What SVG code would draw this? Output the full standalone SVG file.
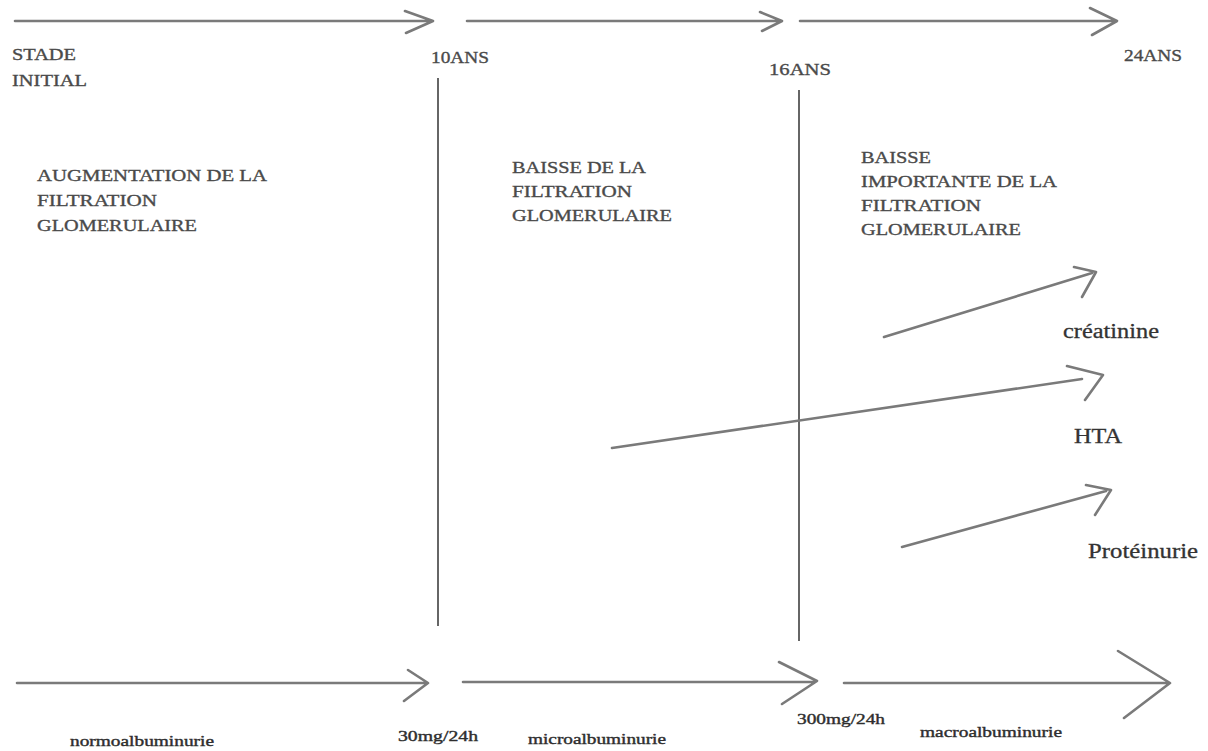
<svg xmlns="http://www.w3.org/2000/svg" width="1208" height="751" viewBox="0 0 1208 751">
<style>
.ln{stroke:#7a7a7a;stroke-width:2.6;fill:none;stroke-linecap:round;stroke-linejoin:round}
.vl{stroke:#333;stroke-width:1.5;fill:none}
.t{font-family:"Liberation Serif","Times New Roman",serif;font-size:17px;fill:#4a4a4a;stroke:#4a4a4a;stroke-width:0.35}
.tb{font-family:"Liberation Serif","Times New Roman",serif;font-size:20px;fill:#333;stroke:#333;stroke-width:0.3}
.ts{font-family:"Liberation Serif","Times New Roman",serif;font-size:15px;fill:#2e2e2e;stroke:#2e2e2e;stroke-width:0.4}
</style>
<rect width="1208" height="751" fill="#fff"/>
<g id="connectors">
<path class="ln" d="M15,21 H432 M405,11 L433,21 L406,33"/>
<path class="ln" d="M467,21 H780 M760,12 L782,21 L762,31"/>
<path class="ln" d="M800,21 H1115 M1090,8 L1117,21 L1092,35"/>
<line class="vl" x1="438" y1="78" x2="438" y2="626"/>
<line class="vl" x1="799" y1="90" x2="799" y2="641"/>
<path class="ln" d="M884,337 L1092,273 M1074,267 L1096,272 L1082,297"/>
<path class="ln" d="M612,448 L1082,379 M1067,366 L1103,375 L1085,400"/>
<path class="ln" d="M902,547 L1106,491 M1086,485 L1111,490 L1095,515"/>
<path class="ln" d="M17,683 H426 M408,670 L428,683 L404,701"/>
<path class="ln" d="M463,682 H814 M779,662 L817,681 L782,704"/>
<path class="ln" d="M844,683 H1167 M1118,651 L1170,683 L1124,718"/>
</g>
<g id="time-labels">
<text class="t" x="12" y="60" textLength="64" lengthAdjust="spacingAndGlyphs">STADE</text>
<text class="t" x="12" y="86" textLength="75" lengthAdjust="spacingAndGlyphs">INITIAL</text>
<text class="t" x="431" y="63" textLength="58" lengthAdjust="spacingAndGlyphs">10ANS</text>
<text class="t" x="769" y="75" textLength="62" lengthAdjust="spacingAndGlyphs">16ANS</text>
<text class="t" x="1124" y="61" textLength="58" lengthAdjust="spacingAndGlyphs">24ANS</text>
</g>
<g id="stage1">
<text class="t" x="37" y="181" textLength="230" lengthAdjust="spacingAndGlyphs">AUGMENTATION DE LA</text>
<text class="t" x="37" y="206" textLength="120" lengthAdjust="spacingAndGlyphs">FILTRATION</text>
<text class="t" x="37" y="231" textLength="160" lengthAdjust="spacingAndGlyphs">GLOMERULAIRE</text>
</g>
<g id="stage2">
<text class="t" x="512" y="173" textLength="134" lengthAdjust="spacingAndGlyphs">BAISSE DE LA</text>
<text class="t" x="512" y="197" textLength="120" lengthAdjust="spacingAndGlyphs">FILTRATION</text>
<text class="t" x="512" y="221" textLength="160" lengthAdjust="spacingAndGlyphs">GLOMERULAIRE</text>
</g>
<g id="stage3">
<text class="t" x="861" y="163" textLength="70" lengthAdjust="spacingAndGlyphs">BAISSE</text>
<text class="t" x="861" y="187" textLength="196" lengthAdjust="spacingAndGlyphs">IMPORTANTE DE LA</text>
<text class="t" x="861" y="211" textLength="120" lengthAdjust="spacingAndGlyphs">FILTRATION</text>
<text class="t" x="861" y="235" textLength="160" lengthAdjust="spacingAndGlyphs">GLOMERULAIRE</text>
</g>
<g id="signs">
<text class="tb" x="1063" y="338" textLength="96" lengthAdjust="spacingAndGlyphs">créatinine</text>
<text class="tb" x="1074" y="443" textLength="48" lengthAdjust="spacingAndGlyphs">HTA</text>
<text class="tb" x="1088" y="558" textLength="110" lengthAdjust="spacingAndGlyphs">Protéinurie</text>
</g>
<g id="albuminuria">
<text class="ts" x="70" y="746" textLength="144" lengthAdjust="spacingAndGlyphs">normoalbuminurie</text>
<text class="ts" x="398" y="741" textLength="80" lengthAdjust="spacingAndGlyphs">30mg/24h</text>
<text class="ts" x="528" y="744" textLength="138" lengthAdjust="spacingAndGlyphs">microalbuminurie</text>
<text class="ts" x="797" y="724" textLength="88" lengthAdjust="spacingAndGlyphs">300mg/24h</text>
<text class="ts" x="920" y="737" textLength="142" lengthAdjust="spacingAndGlyphs">macroalbuminurie</text>
</g>
</svg>
